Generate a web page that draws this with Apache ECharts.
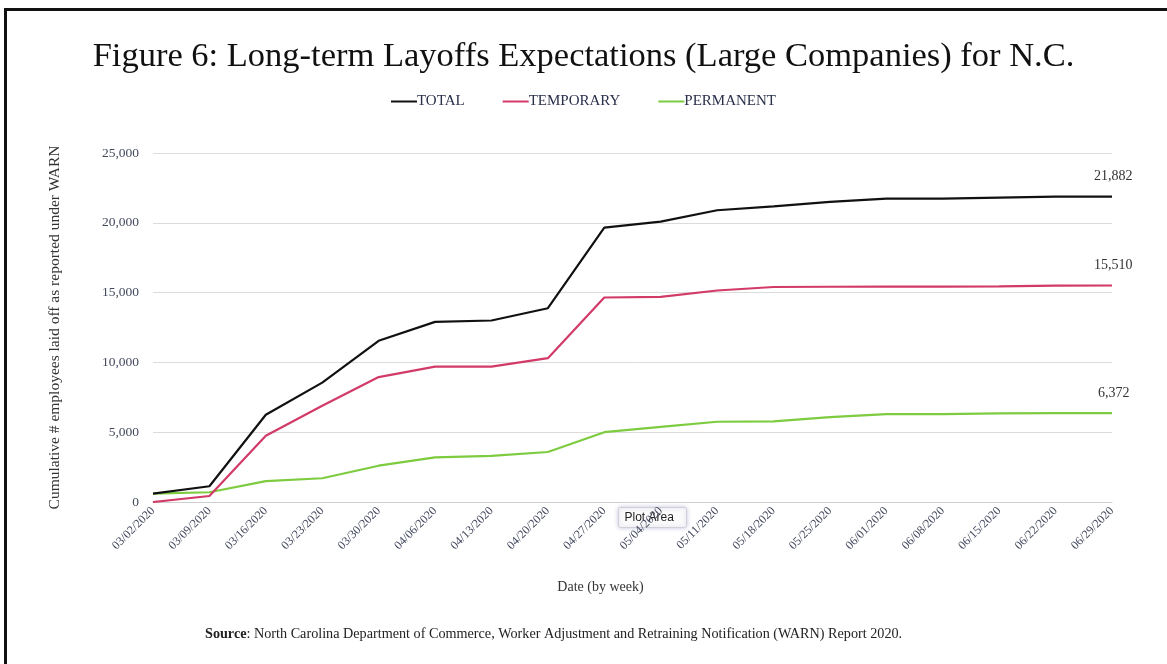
<!DOCTYPE html>
<html>
<head>
<meta charset="utf-8">
<script src="https://cdn.jsdelivr.net/npm/echarts@6/dist/echarts.min.js"></script>
<style>
  html, body { margin: 0; padding: 0; background: #fff; }
  #frame {
    position: absolute; left: 4px; top: 8px; width: 1163px; height: 656px;
    border-top: 3px solid #111; border-left: 3px solid #111; box-sizing: border-box;
  }
  #main { position: absolute; left: 0; top: 0; width: 1167px; height: 664px; }
</style>
</head>
<body>
<div id="frame"></div>
<div id="main"></div>
<script>
// weekly dates
const weeks = ['03/02/2020', '03/09/2020', '03/16/2020', '03/23/2020', '03/30/2020', '04/06/2020',
  '04/13/2020', '04/20/2020', '04/27/2020', '05/04/2020', '05/11/2020', '05/18/2020',
  '05/25/2020', '06/01/2020', '06/08/2020', '06/15/2020', '06/22/2020', '06/29/2020']

// cumulative layoffs
const total = [600, 1130, 6250, 8550, 11550, 12900, 13000, 13880, 19650, 20080, 20900, 21180,
  21500, 21730, 21730, 21800, 21872, 21882]
const temporary = [0, 430, 4750, 6900, 8950, 9700, 9700, 10300, 14650, 14700, 15150, 15400,
  15420, 15430, 15430, 15450, 15500, 15510]
const permanent = [600, 700, 1500, 1700, 2600, 3200, 3300, 3580, 5000, 5380, 5750, 5780,
  6080, 6300, 6300, 6350, 6372, 6372]

const yTicks = [0, 5000, 10000, 15000, 20000, 25000]

const serif = '"Liberation Serif", "DejaVu Serif", serif'

let myChart = echarts.init(document.getElementById('main'))

// value shown only at the end of each line
function endLbl() {
  return {
    show: true,
    offset: [-26, -20],
    color: '#333',
    fontFamily: serif,
    fontSize: 14,
    formatter: (p) => p.value.toLocaleString('en-US')
  }
}

let option = {
  animation: false,
  title: {
    text: 'Figure 6: Long-term Layoffs Expectations (Large Companies) for N.C.',
    left: 'center',
    top: 34,
    textStyle: { fontFamily: serif, fontSize: 34.5, fontWeight: 'normal', color: '#111' }
  },
  legend: {
    top: 89,
    left: 'center',
    itemWidth: 26,
    itemHeight: 2,
    itemGap: 38,
    icon: 'rect',
    textStyle: { fontFamily: serif, fontSize: 15, color: '#2a2f4a', padding: [0, 0, 0, -5] },
    data: ['TOTAL', 'TEMPORARY', 'PERMANENT']
  },
  grid: { left: 153, right: 55, top: 153, bottom: 162 },
  xAxis: {
    type: 'category',
    data: weeks,
    boundaryGap: false,
    name: 'Date (by week)',
    nameLocation: 'middle',
    nameGap: 78,
    nameTextStyle: { fontFamily: serif, fontSize: 14, color: '#333', padding: [0, 64, 0, 0] },
    axisLine: { show: true, lineStyle: { color: '#cfcfcf' } },
    axisTick: { show: false },
    axisLabel: {
      rotate: 45,
      interval: 0,
      margin: 7,
      fontFamily: serif,
      fontSize: 12,
      color: '#444a5e'
    }
  },
  yAxis: {
    type: 'value',
    min: 0,
    max: 25000,
    interval: 5000,
    name: 'Cumulative # employees laid off as reported under WARN',
    nameLocation: 'middle',
    nameGap: 90,
    nameTextStyle: { fontFamily: serif, fontSize: 15.5, color: '#333' },
    axisLine: { show: false },
    axisTick: { show: false },
    axisLabel: {
      margin: 14,
      fontFamily: serif,
      fontSize: 13.5,
      color: '#444a5e',
      formatter: (v) => yTicks.includes(v) ? v.toLocaleString('en-US') : ''
    },
    splitLine: { lineStyle: { color: '#dcdcdc', width: 1 } }
  },
  series: [
    {
      name: 'TOTAL',
      type: 'line',
      data: total,
      symbol: 'none',
      lineStyle: { color: '#111', width: 2.2 },
      itemStyle: { color: '#111' },
      endLabel: endLbl(),
      z: 3
    },
    {
      name: 'TEMPORARY',
      type: 'line',
      data: temporary,
      symbol: 'none',
      lineStyle: { color: '#d23a68', width: 2.2 },
      itemStyle: { color: '#d23a68' },
      endLabel: endLbl(),
      z: 2
    },
    {
      name: 'PERMANENT',
      type: 'line',
      data: permanent,
      symbol: 'none',
      lineStyle: { color: '#7dcb3f', width: 2.2 },
      itemStyle: { color: '#7dcb3f' },
      endLabel: Object.assign(endLbl(), { offset: [-22, -20] }),
      z: 1
    }
  ],
  graphic: [
    {
      type: 'text',
      left: 205,
      top: 627,
      style: {
        text: '{b|Source}: North Carolina Department of Commerce, Worker Adjustment and Retraining Notification (WARN) Report 2020.',
        font: '14.2px ' + serif,
        fill: '#222',
        rich: { b: { fontWeight: 'bold', fontFamily: serif, fontSize: 14.2, fill: '#222' } }
      }
    },
    {
      // hover tooltip captured in the screenshot
      type: 'group',
      left: 618,
      top: 507,
      children: [
        {
          type: 'rect',
          shape: { x: 0, y: 0, width: 68, height: 20, r: 2 },
          style: { fill: '#fbfbfb', stroke: '#d0d0d8', lineWidth: 1, shadowBlur: 4, shadowColor: 'rgba(80,80,160,0.3)' }
        },
        {
          type: 'text',
          left: 6,
          top: 4,
          style: { text: 'Plot Area', font: '12px "Liberation Sans", Arial, sans-serif', fill: '#222' }
        }
      ]
    }
  ]
}

myChart.setOption(option)
</script>
</body>
</html>
